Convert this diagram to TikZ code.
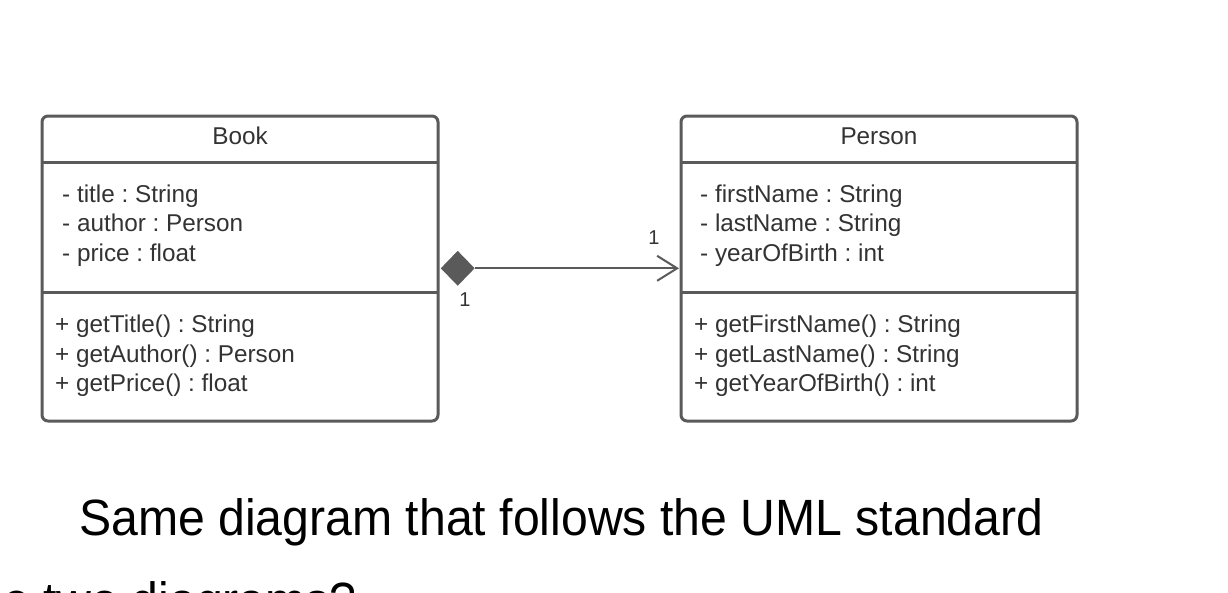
\documentclass[tikz,border=0pt]{standalone}
\usepackage{fontspec}
\setmainfont{Liberation Sans}
\usetikzlibrary{arrows.meta,shapes.geometric}
\definecolor{linegray}{HTML}{5A5A5A}
\definecolor{textgray}{HTML}{333333}
\frenchspacing
\begin{document}
\begin{tikzpicture}[x=1pt,y=-1pt,
  classbox/.style={draw=linegray, line width=3pt, rounded corners=6pt, inner sep=0pt, outer sep=0pt, anchor=north west, minimum width=396pt, minimum height=305pt},
  divider/.style={draw=linegray, line width=3pt},
  classtitle/.style={font=\fontsize{24.3}{29}\selectfont, text=textgray, inner sep=0pt, anchor=base},
  member/.style={font=\fontsize{24.3}{29}\selectfont, text=textgray, inner sep=0pt, anchor=base west},
  mult/.style={font=\fontsize{20}{22}\selectfont, text=textgray, inner sep=0pt},
  assoc/.style={draw=linegray, line width=2pt, -{Straight Barb[length=20pt,width=25pt]}},
  comp/.style={diamond, fill=linegray, minimum width=34pt, minimum height=35pt, inner sep=0pt, anchor=west},
  caption/.style={font=\fontsize{51}{60}\selectfont, text=black, inner sep=0pt, anchor=base west, xscale=0.945}
]
\clip (0,0) rectangle (1228,592);
\fill[white] (0,0) rectangle (1228,592);

% Book class
\node[classbox] (book) at (42,116) {};
\draw[divider] (42,162) -- (438,162);
\draw[divider] (42,292) -- (438,292);
\node[classtitle] (booktitle) at (240,144) {Book};
\node[member] (ba1) at (62,202) {- title : String};
\node[member] (ba2) at (62,231.5) {- author : Person};
\node[member] (ba3) at (62,261) {- price : float};
\node[member] (bm1) at (55,332.5) {+ getTitle() : String};
\node[member] (bm2) at (55,362) {+ getAuthor() : Person};
\node[member] (bm3) at (55,391) {+ getPrice() : float};

% Person class
\node[classbox] (person) at (681,116) {};
\draw[divider] (681,162) -- (1077,162);
\draw[divider] (681,292) -- (1077,292);
\node[classtitle] (persontitle) at (879,144) {Person};
\node[member] (pa1) at (700,202) {- firstName : String};
\node[member] (pa2) at (700,231.5) {- lastName : String};
\node[member] (pa3) at (700,261) {- yearOfBirth : int};
\node[member] (pm1) at (694,332.5) {+ getFirstName() : String};
\node[member] (pm2) at (694,362) {+ getLastName() : String};
\node[member] (pm3) at (694,391) {+ getYearOfBirth() : int};

% composition
\node[comp] (dia) at (440.5,268.3) {};
\draw[assoc, shorten >=2pt] (dia.east) -- (dia.east -| person.west);
\node[mult] (m1) at (465,300) {1};
\node[mult] (m2) at (654,238) {1};

% captions
\node[caption] (cap1) at (79,535) {Same diagram that follows the UML standard};
\node[caption] (cap2) at (3,618) {e two diagrams?};
\end{tikzpicture}
\end{document}
